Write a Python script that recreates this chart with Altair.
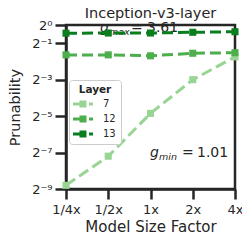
import altair as alt
import pandas as pd

sizes = ["1/4x", "1/2x", "1x", "2x", "4x"]
layers = ["7", "12", "13"]
log2_prun_7 = [-8.8, -7.2, -4.85, -3.0, -1.75]
log2_prun_12 = [-1.64, -1.64, -1.69, -1.55, -1.52]
log2_prun_13 = [-0.45, -0.44, -0.44, -0.40, -0.37]
colors = ["#98d594", "#4cae4c", "#0a7d1f"]
ytick_exps = [0, -1, -3, -5, -7, -9]
ytick_labels = ["2⁰", "2⁻¹", "2⁻³", "2⁻⁵", "2⁻⁷", "2⁻⁹"]

rows = []
for lay, vals in zip(layers, [log2_prun_7, log2_prun_12, log2_prun_13]):
    for s, v in zip(sizes, vals):
        rows.append({"size": s, "layer": lay, "prun": 2.0 ** v})
df = pd.DataFrame(rows)

FONT = "DejaVu Sans"
INK = "#262626"

label_expr = ""
for e, lab in zip(ytick_exps, ytick_labels):
    label_expr += f"(round(log(datum.value)/LN2)=={e}) ? '{lab}' : "
label_expr += "''"

x_enc = alt.X(
    "size:O", sort=sizes, scale=alt.Scale(type="point", padding=0),
    axis=alt.Axis(title="Model Size Factor", labelAngle=0, labelFontSize=13,
                  titleFontSize=15, labelPadding=4, titlePadding=3,
                  tickSize=10, tickWidth=2.5, domainWidth=2.5,
                  domainColor=INK, tickColor=INK, labelColor=INK,
                  titleColor=INK, titleFontWeight="normal", grid=False))
y_enc = alt.Y(
    "prun:Q",
    scale=alt.Scale(type="log", base=2, domain=[2.0 ** -9, 1.0]),
    axis=alt.Axis(title="Prunability", values=[2.0 ** e for e in ytick_exps],
                  labelExpr=label_expr, labelFontSize=13, titleFontSize=14.5,
                  labelPadding=3, titlePadding=9, tickSize=11, tickWidth=2.5,
                  domainWidth=2.5, domainColor=INK, tickColor=INK,
                  labelColor=INK, titleColor=INK, titleFontWeight="normal",
                  grid=False))

sym_path = ("M-1.18,-0.27H0V-0.64H1.27V0.64H0V0.27H-1.18Z "
            "M1.73,-0.27H2.45V0.27H1.73Z")

legend = alt.Legend(
    title="Layer", orient="none", legendX=3, legendY=55,
    symbolType=sym_path, symbolSize=121, symbolStrokeWidth=0,
    labelOffset=18, padding=5, titlePadding=3,
    rowPadding=4, strokeColor="#cccccc", fillColor="white", cornerRadius=3,
    titleFontWeight="bold", titleFontSize=10.5, labelFontSize=10,
    titleAnchor="middle", titleColor=INK, labelColor=INK)

color_enc = alt.Color("layer:N", scale=alt.Scale(domain=layers, range=colors),
                      sort=layers, legend=legend)

def txt(t, x, y, size=14, italic=False):
    return alt.Chart(pd.DataFrame({"t": [t]})).mark_text(
        align="left", baseline="alphabetic", font=FONT, fontSize=size,
        fontStyle="italic" if italic else "normal", color=INK
    ).encode(text="t:N", x=alt.value(x), y=alt.value(y))

annot = [
    txt("g", 100 - 66, 32 - 25, italic=True),
    txt("max", 109 - 66, 35 - 25, size=9.5, italic=True),
    txt("=", 131 - 66, 32 - 25),
    txt("3.61", 147 - 66, 32 - 25),
    txt("g", 150 - 66, 157 - 25, italic=True),
    txt("min", 159 - 66, 160 - 25, size=9.5, italic=True),
    txt("=", 182 - 66, 157 - 25),
    txt("1.01", 197 - 66, 157 - 25),
]

lines = alt.Chart(df).mark_line(strokeWidth=3, strokeDash=[11, 5]).encode(
    x=x_enc, y=y_enc, color=color_enc)
points = alt.Chart(df).mark_point(shape="square", filled=True, size=50,
                                  opacity=1).encode(
    x=x_enc, y=y_enc, color=color_enc)

chart = alt.layer(*annot, lines, points).properties(
    width=169, height=164,
    title=alt.Title("Inception-v3-layer", fontSize=14.5, font=FONT,
                    fontWeight="normal", color=INK, anchor="middle", offset=-2),
    autosize=alt.AutoSizeParams(type="none"),
    padding={"left": 58, "top": 17, "right": 7, "bottom": 48},
).configure(font=FONT).configure_view(stroke=INK, strokeWidth=2.5)

chart.save("out.html", embed_options={"renderer": "svg", "actions": False})
